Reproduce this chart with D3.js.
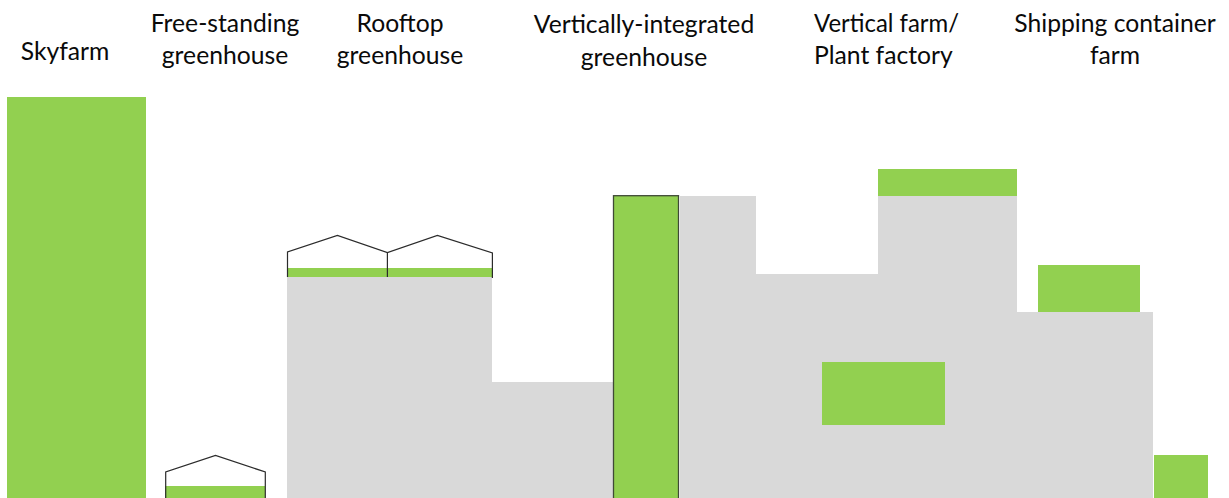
<!DOCTYPE html>
<html>
<head>
<meta charset="utf-8">
<script src="https://cdn.jsdelivr.net/npm/d3@7"></script>
<style>
html, body { margin: 0; padding: 0; background: #fff; overflow: hidden; }
svg { display: block; }
text { font-family: Lato, "Open Sans", sans-serif; fill: #0a0a0a; }
</style>
</head>
<body>
<svg id="chart" width="1229" height="498"></svg>
<script>
// horizontal position along the section, height above ground (both)
var categories = [
    ["Skyfarm"],
    ["Free-standing", "greenhouse"],
    ["Rooftop", "greenhouse"],
    ["Vertically-integrated", "greenhouse"],
    ["Vertical farm/", "Plant factory"],
    ["Shipping container", "farm"]
]
var labelAnchors = [65, 225, 400, 644, 814, 1115]
var labelAlign = ["middle", "middle", "middle", "middle", "start", "middle"]
var labelBaselines = [60, 32, 32, 33, 32, 32]
var labelGaps = [0, 32, 32, 33, 32, 32]
var firstLineWidths = [null, null, null, null, 145, null]

var buildingStart = [287, 492, 680, 756, 878, 1017]
var buildingEnd = [492, 614, 756, 878, 1017, 1153]
var buildingHeights = [221, 116, 302, 224, 302, 186]

var growStart = [7, 165, 287, 613.5, 878, 822, 1038, 1154]
var growEnd = [146, 265, 492, 678.5, 1017, 945, 1140, 1208]
// the outlined bar runs past the bottom edge of the picture, so no line closes it
var growBottom = [0, 0, 221, -3, 302, 73, 186, 0]
var growTop = [401, 12, 230, 302.3, 329, 136, 233, 43]
var growOutlined = [false, false, false, true, false, false, false, false]

var roofOutlines = [
    [[165.7, 0], [165.7, 26], [215.5, 42.5], [265.3, 26], [265.3, 0]],
    [[287.5, 221], [287.5, 246], [337.4, 262.5], [387.4, 245.5], [437.4, 262.5], [492.4, 245], [492.4, 220]]
]
var roofDividers = [
    [[387.4, 221], [387.4, 245.5]]
]

var width = 1229
var height = 498

var x = d3.scaleLinear().domain([0, width]).range([0, width])
var y = d3.scaleLinear().domain([0, height]).range([height, 0])

var svg = d3.select("#chart")

var buildings = buildingHeights.map(function(h, i) {
    return {x0: buildingStart[i], x1: buildingEnd[i], h: h}
})

svg.append("g")
    .selectAll("rect")
    .data(buildings)
    .enter().append("rect")
    .attr("x", function(d) { return x(d.x0) })
    .attr("y", function(d) { return y(d.h) })
    .attr("width", function(d) { return x(d.x1) - x(d.x0) })
    .attr("height", function(d) { return y(0) - y(d.h) })
    .attr("fill", "#d9d9d9")
    .attr("shape-rendering", "crispEdges")

var line = d3.line()
    .x(function(d) { return x(d[0]) })
    .y(function(d) { return y(d[1]) })

var grow = growStart.map(function(s, i) {
    return {x0: s, x1: growEnd[i], b: growBottom[i], t: growTop[i], outlined: growOutlined[i]}
})

svg.append("g")
    .selectAll("rect")
    .data(grow)
    .enter().append("rect")
    .attr("x", function(d) { return x(d.x0) })
    .attr("y", function(d) { return y(d.t) })
    .attr("width", function(d) { return x(d.x1) - x(d.x0) })
    .attr("height", function(d) { return y(d.b) - y(d.t) })
    .attr("fill", "#92d050")
    .attr("stroke", function(d) { return d.outlined ? "#3f4a36" : "none" })
    .attr("stroke-width", 1.3)
    .attr("shape-rendering", function(d) { return d.outlined ? "auto" : "crispEdges" })

svg.append("g")
    .selectAll("path")
    .data(roofOutlines.concat(roofDividers))
    .enter().append("path")
    .attr("d", line)
    .attr("fill", "none")
    .attr("stroke", "#2b2b2b")
    .attr("stroke-width", 1.2)

var labels = svg.append("g")
    .selectAll("text")
    .data(categories)
    .enter().append("text")
    .attr("text-anchor", function(d, i) { return labelAlign[i] })
    .attr("font-size", 24.7)
    .attr("y", function(d, i) { return labelBaselines[i] })

labels.selectAll("tspan")
    .data(function(d, i) {
        return d.map(function(t, j) {
            return {t: t, ax: labelAnchors[i], gap: j ? labelGaps[i] : 0, w: j ? null : firstLineWidths[i]}
        })
    })
    .enter().append("tspan")
    .attr("x", function(d) { return d.ax })
    .attr("dy", function(d) { return d.gap })
    .attr("textLength", function(d) { return d.w })
    .attr("lengthAdjust", "spacingAndGlyphs")
    .text(function(d) { return d.t })
</script>
</body>
</html>
